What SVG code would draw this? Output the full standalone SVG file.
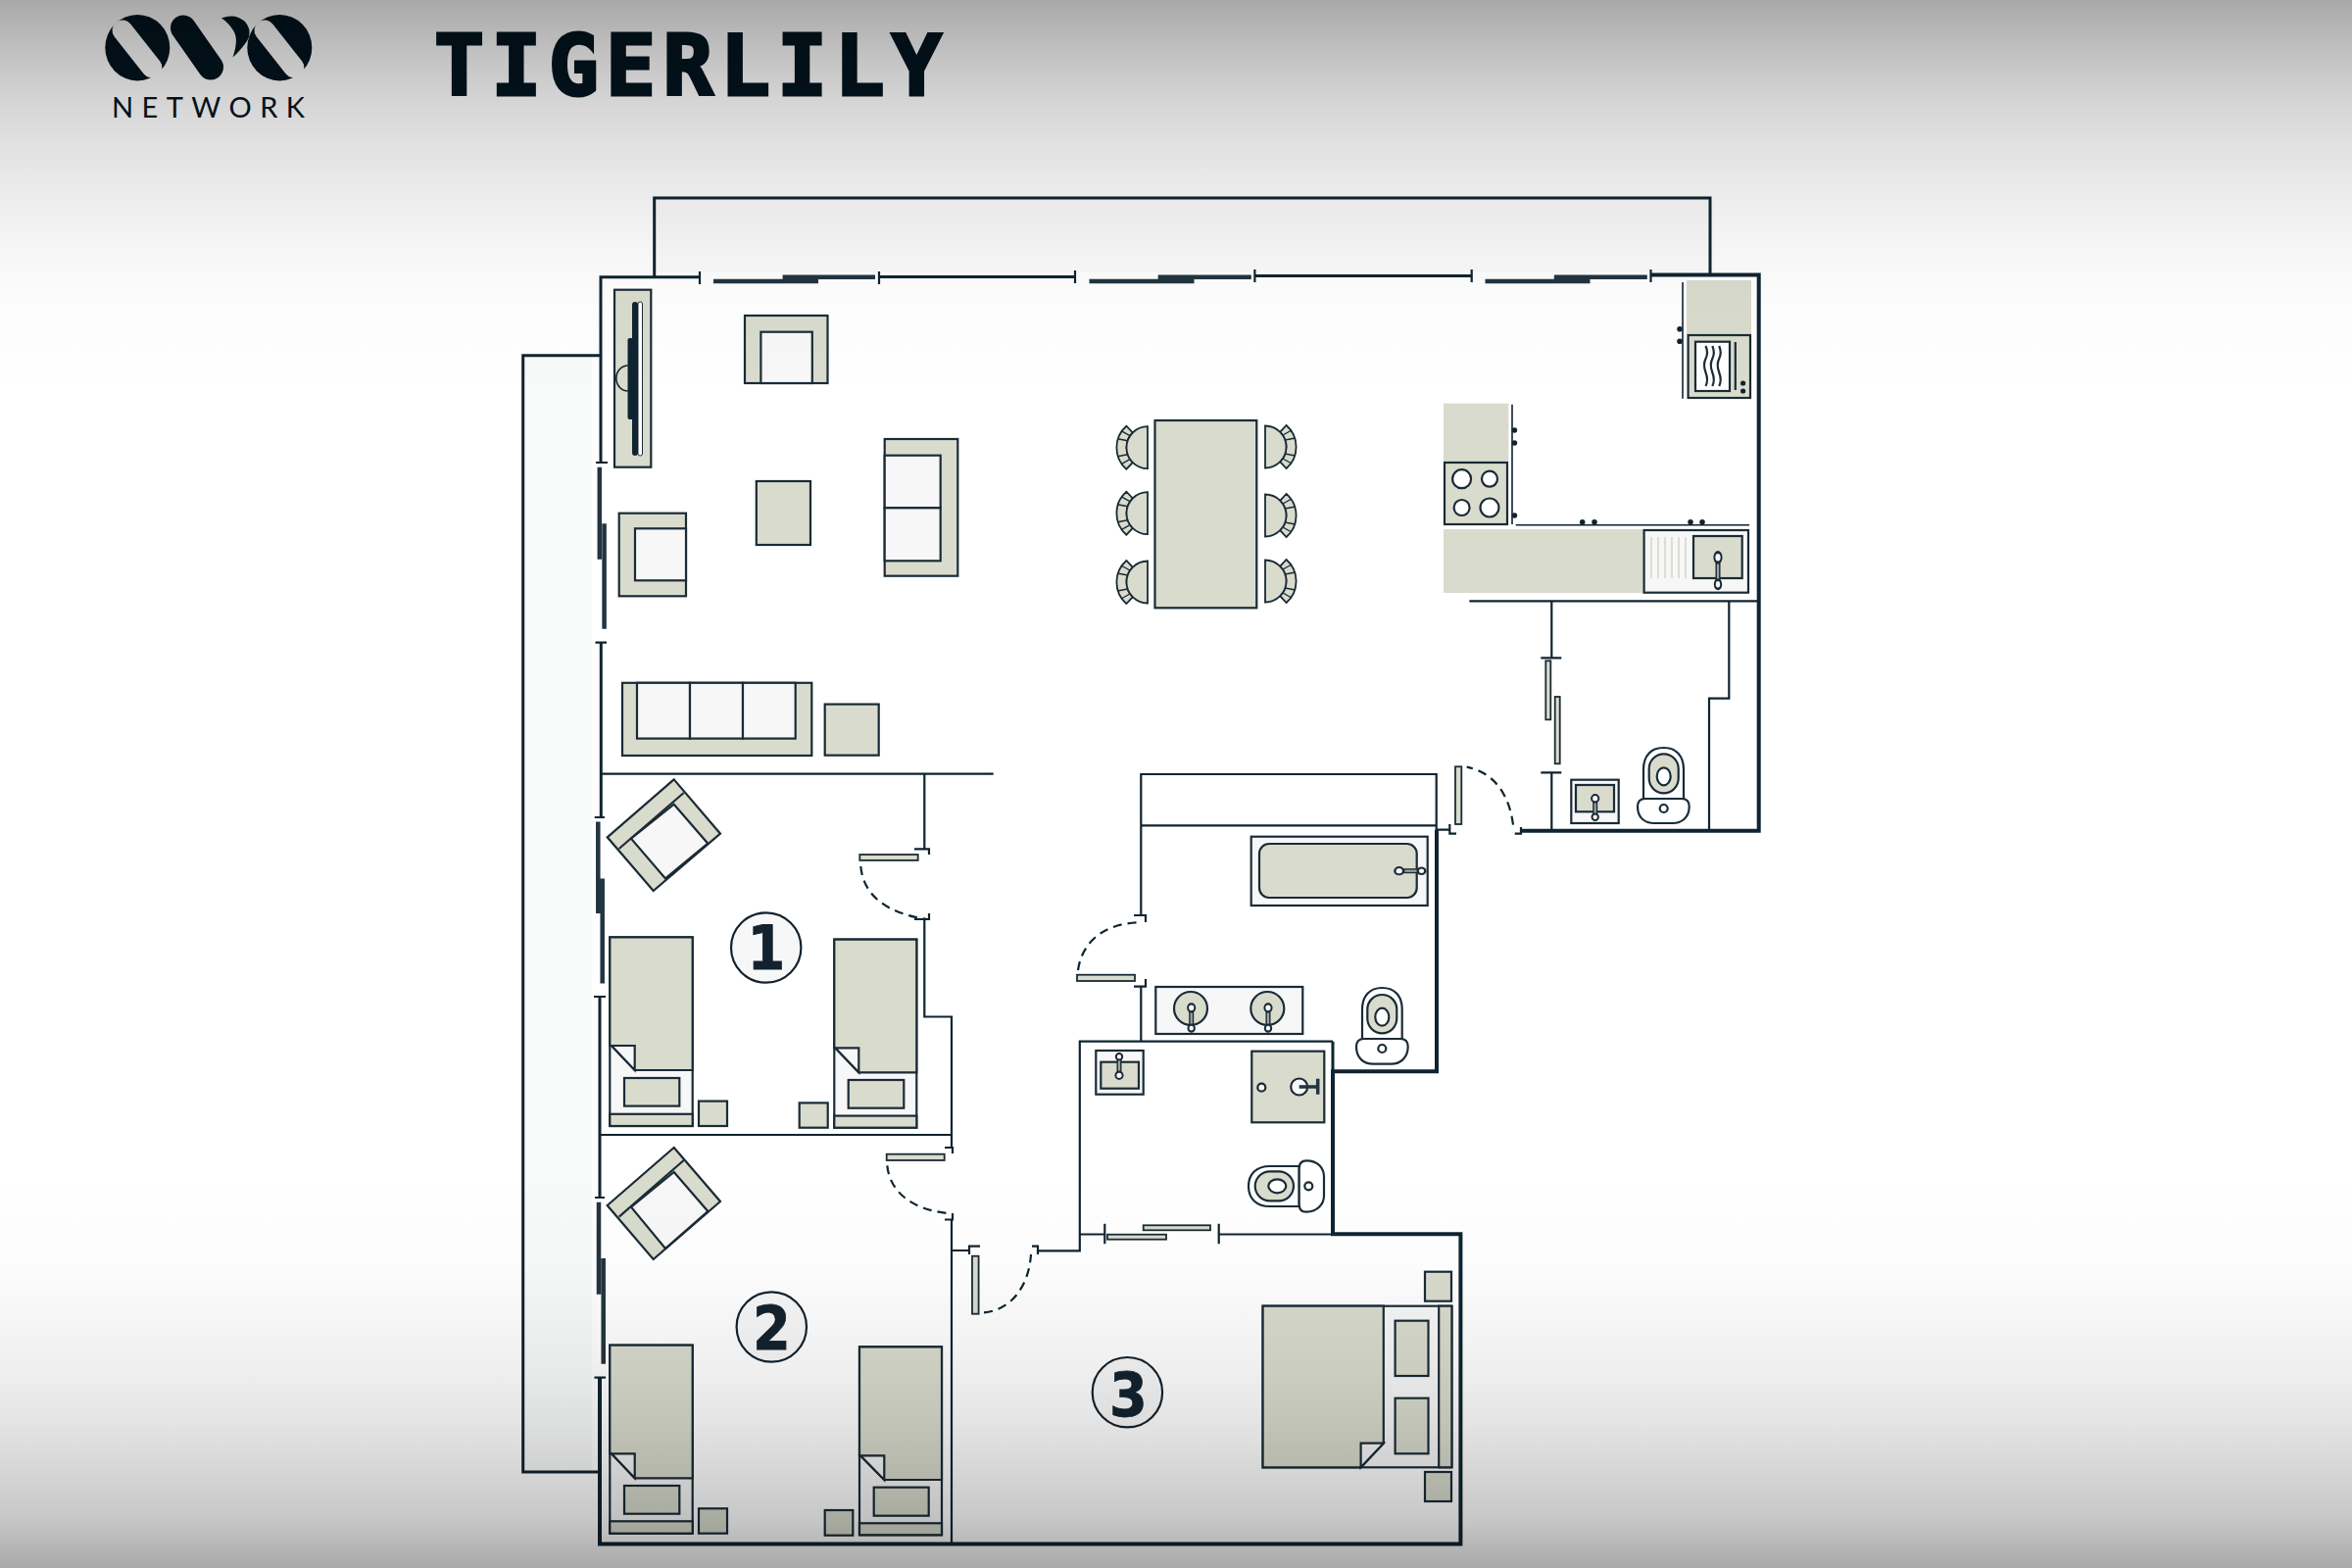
<svg xmlns="http://www.w3.org/2000/svg" xmlns:xlink="http://www.w3.org/1999/xlink" width="2400" height="1600" viewBox="0 0 2400 1600">
<style>
.w{fill:none;stroke:#0f2430;stroke-width:4}
.m{fill:none;stroke:#0f2430;stroke-width:3}
.t{fill:none;stroke:#0f2430;stroke-width:2.2}
.th{fill:none;stroke:#0f2430;stroke-width:1.6}
.d{fill:none;stroke:#0f2430;stroke-width:2.2;stroke-dasharray:9 6}
.g{fill:none;stroke:#22343f;stroke-width:4.5}
.f{fill:#d9dbcd;stroke:#1a2b36;stroke-width:2.2}
.c{fill:#f7f7f7;stroke:#1a2b36;stroke-width:2.2}
.n{fill:#d9dbcd;stroke:none}
.o{fill:#ffffff;stroke:#1a2b36;stroke-width:2.2}
.k{fill:#0f2430;stroke:none}
.s{fill:none;stroke:#1a2b36;stroke-width:2.2}
.l{fill:#d9dbcd;stroke:#1a2b36;stroke-width:1.8}
.cb{fill:#d9dbcd;stroke:#1a2b36;stroke-width:1.8}
.cr{fill:none;stroke:#1a2b36;stroke-width:1.4}
.num{font-family:"DejaVu Sans",sans-serif;font-weight:700;font-size:62px;fill:#13222e;stroke:#13222e;stroke-width:.8;text-anchor:middle}
.circ{fill:#f7f7f7;stroke:#13222e;stroke-width:2.2}
.logo{fill:#03141f}
</style>
<defs>
<linearGradient id="shade" x1="0" y1="0" x2="0" y2="1">
<stop offset="0" stop-color="#000" stop-opacity=".34"/>
<stop offset=".03125" stop-color="#000" stop-opacity=".25"/>
<stop offset=".0625" stop-color="#000" stop-opacity=".17"/>
<stop offset=".09375" stop-color="#000" stop-opacity=".115"/>
<stop offset=".125" stop-color="#000" stop-opacity=".075"/>
<stop offset=".156" stop-color="#000" stop-opacity=".04"/>
<stop offset=".1875" stop-color="#000" stop-opacity=".015"/>
<stop offset=".25" stop-color="#000" stop-opacity="0"/>
<stop offset=".75" stop-color="#000" stop-opacity="0"/>
<stop offset=".8125" stop-color="#000" stop-opacity=".015"/>
<stop offset=".844" stop-color="#000" stop-opacity=".04"/>
<stop offset=".875" stop-color="#000" stop-opacity=".065"/>
<stop offset=".906" stop-color="#000" stop-opacity=".105"/>
<stop offset=".9375" stop-color="#000" stop-opacity=".16"/>
<stop offset=".969" stop-color="#000" stop-opacity=".22"/>
<stop offset="1" stop-color="#000" stop-opacity=".34"/>
</linearGradient>
<g id="chair">
<path class="cb" d="M-21.6,-22 A29.2,29.2 0 0 0 -21.6,22 L-15.2,15.2 A21.5,21.5 0 0 1 -15.2,-15.2 Z"/>
<path class="cr" d="M-20.3,-7 L-30.7,-9 M-20.3,7 L-30.7,9 M-18,-12 L-27,-17 M-18,12 L-27,17"/>
<path class="cb" d="M0,-21.5 A21.5,21.5 0 0 0 0,21.5 Z"/>
</g>
<g id="tap">
<rect x="-1.8" y="4" width="3.6" height="12" fill="#9ea3a0" stroke="#1a2b36" stroke-width="1.4"/>
<circle cx="0" cy="0" r="3.6" fill="#f7f7f7" stroke="#1a2b36" stroke-width="2"/>
<circle cx="0" cy="19" r="3.2" fill="#f7f7f7" stroke="#1a2b36" stroke-width="2"/>
</g>
</defs>
<rect width="2400" height="1600" fill="#ffffff"/>
<rect x="534" y="363" width="70" height="1139" fill="#f8f9f9"/>
<rect x="668" y="202" width="1077" height="76" fill="#fbfbfb"/>
<g id="header">
<g id="logo">
<ellipse class="logo" cx="140.3" cy="48.7" rx="33" ry="33.7"/>
<line x1="125" y1="31" x2="155" y2="69" stroke="#fff" stroke-width="21" stroke-linecap="round"/>
<line x1="187" y1="28.5" x2="215" y2="68.5" stroke="#03141f" stroke-width="26" stroke-linecap="round"/>
<path class="logo" d="M226,18.5 Q240,13 250,22 Q258,32 252,42 Q245,52 237.5,58.5 Q244,40 238,31 Q233,23 226,18.5 Z"/>
<ellipse class="logo" cx="285.3" cy="48.7" rx="33" ry="33.7"/>
<line x1="270" y1="31" x2="300" y2="69" stroke="#fff" stroke-width="21" stroke-linecap="round"/>
</g>
<text x="114" y="120" font-family="Lato,'Noto Sans',sans-serif" font-size="29" fill="#03141f" textLength="197" lengthAdjust="spacing">NETWORK</text>
<text x="443" y="96.5" font-family="'DejaVu Sans Mono',monospace" font-weight="700" font-size="85" fill="#03141f" stroke="#03141f" stroke-width="3.2" textLength="518" lengthAdjust="spacing">TIGERLILY</text>
</g>
<g id="walls">
<path class="m" d="M613 472V282.7H714M667.7 282V202H1745V280M613 362.7H533.7V1502H612"/>
<path class="w" d="M1684.5 280.5H1794.7V847.7H1552M612 1405.7V1575.5H1490.4V1259.3H1360V1093.3H1466V846.7"/>
<path class="m" d="M613.3 655.7V834M612 1017V1222M897 282.5H1097M1280.4 281.5H1501.7M1360 1062.7V1094"/>
<path class="t" d="M714 277V290M897 277V290M1097 276V289M1280.4 275V288M1501.7 275V288M1684.5 275V288M608 472H620M607.5 655.7H619M606.7 834H617M606 1017H618M607 1222H617M606.5 1405.7H618"/>
<path class="t" d="M613 789.6H1013.7M943.3 789.6V866M943.3 938.6V1037.5H971V1171.7M613 1158H971M971 1245V1575"/>
<path class="t" d="M971 1276H988M1059.3 1276.3H1101.8V1062.7H1360M1101.8 1259.5H1127.3M1243.7 1259.5H1360M1164.3 1006.7V1062.7M1164.3 934V790H1465.7V846.7H1479.3M1164.3 842.3H1465.7"/>
<path class="t" d="M1499.4 613.3H1794.7M1583.3 613.3V671.3M1583.3 788.3V847M1764.3 613.3V712.7H1744V847"/>
<path class="t" d="M1572.3 671.3H1593.3M1572.3 788.3H1593.3M1127.3 1248.7V1269.3M1243.7 1248.7V1269.3"/>
</g>
<g id="windows">
<path class="g" d="M728 287H835M798.6 282.7H893M1111.5 287H1218.5M1181.7 282.7H1276.8M1515.5 287H1622.5M1585.8 282.7H1680.8M611.8 476.7V570.7M616.6 534.3V641.8M610.3 838.6V932M614.7 896.4V1003.6M611 1226.7V1320.7M615.7 1284V1391.7"/>
</g>
<g id="doors">
<path class="t" d="M933 866.4H948V872M933 938H948V932M964 1171H972V1177M964 1244.5H972V1238M1000 1271.7H989V1280M1053 1271.7H1059V1280M1157 934H1169V941M1157 1006.7H1169V999M1479.3 841V850.7H1486M1545.7 850.7H1552V844"/>
<g class="l">
<rect x="877.3" y="872" width="59.4" height="5.9"/>
<rect x="904.7" y="1177.7" width="59" height="6.3"/>
<rect x="992" y="1281.7" width="6.6" height="59"/>
<rect x="1099" y="994.7" width="59" height="6.3"/>
<rect x="1485" y="782.3" width="6.3" height="58.7"/>
<rect x="1577.3" y="674.3" width="5" height="60"/>
<rect x="1586.7" y="711" width="5" height="68.3"/>
<rect x="1130" y="1259.7" width="60" height="5"/>
<rect x="1166.7" y="1250.3" width="68.3" height="5"/>
</g>
<path class="d" d="M878.3 884C881 914 905 932 946 938M905.3 1189.3C908 1216 930 1234 966.7 1238M1004 1339.3C1032 1337 1050 1312 1052 1280M1100 990C1104 962 1125 943 1160.7 941.3M1544 841.7C1540 810 1524 788 1496.7 782.7"/>
</g>
<g id="tv-unit">
<rect class="f" x="627" y="295.7" width="37.3" height="181"/>
<path class="th" d="M640.8 373A12 13 0 0 0 640.8 399" />
<rect x="651" y="308" width="4.5" height="157" rx="2" fill="#fff" stroke="#1a2b36" stroke-width="1"/>
<rect class="k" x="645" y="308" width="6" height="157" rx="3"/>
<rect class="k" x="640.5" y="345" width="6" height="83" rx="2"/>
</g>
<g id="armchair-top">
<rect class="f" x="760" y="322" width="84.5" height="69"/>
<rect class="c" x="776.4" y="338.7" width="52.4" height="52.3"/>
</g>
<rect id="coffee-table" class="f" x="771.8" y="491" width="55.2" height="65"/>
<g id="sofa-2">
<rect class="f" x="902.7" y="448" width="74.6" height="139.7"/>
<rect class="c" x="902.7" y="464.7" width="57" height="53.6"/>
<rect class="c" x="902.7" y="518.3" width="57" height="54"/>
</g>
<g id="armchair-left">
<rect class="f" x="631.7" y="523.7" width="68.3" height="84.6"/>
<rect class="c" x="648" y="539.3" width="52" height="53"/>
</g>
<g id="sofa-3">
<rect class="f" x="635" y="696.8" width="193.3" height="74.2"/>
<rect class="c" x="650" y="696.8" width="54" height="56.8"/>
<rect class="c" x="704" y="696.8" width="54" height="56.8"/>
<rect class="c" x="758" y="696.8" width="53.7" height="56.8"/>
</g>
<rect id="ottoman" class="f" x="841.7" y="718.6" width="55" height="52.1"/>
<g id="dining">
<rect class="f" x="1178.5" y="429" width="103.8" height="191.3"/>
<use xlink:href="#chair" href="#chair" transform="translate(1171,456.7)"/>
<use xlink:href="#chair" href="#chair" transform="translate(1171,523.7)"/>
<use xlink:href="#chair" href="#chair" transform="translate(1171,594)"/>
<use xlink:href="#chair" href="#chair" transform="translate(1291,456) scale(-1,1)"/>
<use xlink:href="#chair" href="#chair" transform="translate(1291,526) scale(-1,1)"/>
<use xlink:href="#chair" href="#chair" transform="translate(1291,593) scale(-1,1)"/>
</g>
<g id="kitchen">
<rect class="n" x="1721" y="286" width="66" height="56"/>
<rect class="f" x="1722.6" y="342" width="63.4" height="64"/>
<rect class="o" x="1730" y="348.7" width="35" height="50.3"/>
<path class="s" d="M1740.5 353q3 7 0 13t0 14t0 14M1747.3 353q3 7 0 13t0 14t0 14M1754.2 353q3 7 0 13t0 14t0 14M1770.8 349V398"/>
<path class="th" d="M1717 288V406.7M1543 412.7V535M1546.7 535.7H1785"/>
<g class="k">
<circle cx="1778.6" cy="391" r="2.6"/><circle cx="1778.6" cy="399" r="2.6"/>
<circle cx="1714" cy="335.7" r="2.8"/><circle cx="1714" cy="348.3" r="2.8"/>
<circle cx="1545.4" cy="439" r="2.8"/><circle cx="1545.4" cy="452" r="2.8"/><circle cx="1545.4" cy="526" r="2.8"/>
<circle cx="1614.7" cy="532.7" r="2.8"/><circle cx="1627" cy="532.7" r="2.8"/><circle cx="1725" cy="532.7" r="2.8"/><circle cx="1737" cy="532.7" r="2.8"/>
</g>
<rect class="n" x="1473" y="411.7" width="66.4" height="60"/>
<rect class="f" x="1474" y="472" width="64" height="63"/>
<circle class="o" cx="1491.6" cy="488.7" r="9.5"/><circle class="o" cx="1520" cy="488.7" r="8"/><circle class="o" cx="1491.6" cy="518" r="8"/><circle class="o" cx="1520" cy="518" r="9.5"/>
<rect class="n" x="1473" y="540" width="204.6" height="65"/>
<rect class="c" x="1677.6" y="541" width="106.4" height="63.7"/>
<path fill="none" stroke="#d0d2c8" stroke-width="1.4" d="M1685 548V590M1692 548V590M1699 548V590M1706 548V590M1713 548V590M1720 548V590"/>
<rect class="f" x="1728" y="547" width="49.7" height="43"/>
<use xlink:href="#tap" href="#tap" transform="translate(1753,568.7) scale(1,1.45)"/>
</g>
<g id="armchair-bed1">
<path class="f" d="M687.7 795.4L735 850.7L666.7 909L619.7 854.3Z"/>
<path class="s" d="M697.7 809L631.7 866"/>
<path class="c" d="M687.7 820.7L722.3 860.7L679 896.4L644 855.7Z"/>
</g>
<g id="armchair-bed2">
<path class="f" d="M687.7 1171L735 1226L666.7 1285L619.7 1230Z"/>
<path class="s" d="M697.7 1184L631.7 1241.7"/>
<path class="c" d="M687.7 1196L722.3 1236L679 1274L644 1231.7Z"/>
</g>
<g id="bed-a">
<rect class="c" x="622.3" y="956.4" width="84.4" height="192.6"/>
<path class="f" d="M622.3 956.4H706.7V1092H647.7L624 1067H622.3Z" />
<path class="c" d="M624 1067H647.7V1092Z"/>
<rect class="f" x="637" y="1100" width="56.3" height="28.6"/>
<rect class="f" x="622.3" y="1136.8" width="84.4" height="12.2"/>
<rect class="f" x="713" y="1123.6" width="29" height="25.4"/>
</g>
<g id="bed-b">
<rect class="c" x="851.3" y="958.6" width="84" height="192.1"/>
<path class="f" d="M851.3 958.6H935.3V1094.3H876.3L852.3 1069.3H851.3Z"/>
<path class="c" d="M852.3 1069.3H876.3V1094.3Z"/>
<rect class="f" x="865.7" y="1102" width="56.6" height="28.7"/>
<rect class="f" x="851.3" y="1138.6" width="84" height="12.1"/>
<rect class="f" x="815.7" y="1125.4" width="29" height="25.3"/>
</g>
<g id="bed-c">
<rect class="c" x="622.3" y="1372.7" width="84.4" height="192"/>
<path class="f" d="M622.3 1372.7H706.7V1508.3H647.7L624 1483.3H622.3Z"/>
<path class="c" d="M624 1483.3H647.7V1508.3Z"/>
<rect class="f" x="637" y="1516" width="56.3" height="28.7"/>
<rect class="f" x="622.3" y="1552.3" width="84.4" height="12.4"/>
<rect class="f" x="713" y="1539.3" width="29" height="25.4"/>
</g>
<g id="bed-d">
<rect class="c" x="877" y="1374.3" width="84" height="192"/>
<path class="f" d="M877 1374.3H961V1510H902.3L878 1485.3H877Z"/>
<path class="c" d="M878 1485.3H902.3V1510Z"/>
<rect class="f" x="891.7" y="1517.7" width="56" height="29"/>
<rect class="f" x="877" y="1554.3" width="84" height="12"/>
<rect class="f" x="841.7" y="1541" width="28.6" height="25.7"/>
</g>
<g id="bed-master">
<rect class="c" x="1288.6" y="1332.7" width="192.8" height="164.6"/>
<path class="f" d="M1288.6 1332.7H1411.8V1472.7L1388.6 1497.3H1288.6Z"/>
<path class="c" d="M1388.6 1472.7H1411.8L1388.6 1497.3Z"/>
<rect class="f" x="1468.2" y="1332.7" width="13.2" height="164.6"/>
<rect class="f" x="1423.6" y="1347.7" width="33.9" height="56.3"/>
<rect class="f" x="1423.6" y="1426.7" width="33.9" height="56.6"/>
<rect class="f" x="1454" y="1297.7" width="27" height="30"/>
<rect class="f" x="1454" y="1502" width="27" height="30"/>
</g>
<g id="bathtub">
<rect class="c" x="1276.7" y="853.7" width="180" height="70.3"/>
<rect class="f" x="1285" y="861" width="160.7" height="55" rx="10"/>
<use xlink:href="#tap" href="#tap" transform="translate(1427.7,888.7) rotate(-90) scale(1,1.2)"/>
</g>
<g id="vanity">
<rect class="c" x="1179.3" y="1007" width="150" height="48"/>
<circle class="f" cx="1215" cy="1029" r="17"/><circle class="f" cx="1293.3" cy="1029" r="17"/>
<use xlink:href="#tap" href="#tap" transform="translate(1215.7,1028.3) scale(1,1.1)"/>
<use xlink:href="#tap" href="#tap" transform="translate(1294,1028.3) scale(1,1.1)"/>
</g>
<g id="toilet-bath">
<path class="o" d="M1390 1060V1030C1390 1016 1398 1008 1410.3 1008C1423 1008 1430.7 1016 1430.7 1030V1060"/>
<path class="o" d="M1384 1068C1384 1062 1388 1060 1392 1060H1429C1433 1060 1436.7 1062 1436.7 1068C1436.7 1080 1428 1085.7 1420 1085.7H1401C1392 1085.7 1384 1080 1384 1068Z"/>
<rect class="f" x="1395.3" y="1015" width="30" height="39.3" rx="15"/>
<ellipse class="o" cx="1410.3" cy="1037.7" rx="7" ry="9"/>
<circle class="o" cx="1410.3" cy="1070" r="4"/>
</g>
<g id="sink-ensuite">
<rect class="c" x="1118.3" y="1072" width="48.4" height="44.7"/>
<rect class="f" x="1123.3" y="1083.7" width="38.7" height="27"/>
<use xlink:href="#tap" href="#tap" transform="translate(1142,1097.3) scale(1,-1)"/>
</g>
<g id="shower">
<rect class="f" x="1277.3" y="1072.7" width="74" height="72.6"/>
<circle class="s" cx="1287.3" cy="1109.7" r="4" style="fill:#f7f7f7"/>
<circle class="s" cx="1325.7" cy="1109" r="8.5" style="fill:#f7f7f7"/>
<path fill="none" stroke="#22343f" stroke-width="3.5" d="M1325.7 1109H1344.7M1344.7 1100.7V1116.7"/>
</g>
<g id="toilet-ensuite">
<path class="o" d="M1325.7 1190H1296C1282 1190 1274 1198 1274 1210.5C1274 1223 1282 1231 1296 1231H1325.7Z"/>
<path class="o" d="M1333 1184.3C1327 1184.3 1325.7 1188 1325.7 1192V1229C1325.7 1233 1327 1236.7 1333 1236.7C1345 1236.7 1351 1228 1351 1220V1201C1351 1192 1345 1184.3 1333 1184.3Z"/>
<rect class="f" x="1280.7" y="1195.3" width="39.3" height="30" rx="15"/>
<ellipse class="o" cx="1303.3" cy="1210.3" rx="9" ry="7"/>
<circle class="o" cx="1335.3" cy="1210.3" r="4"/>
</g>
<g id="sink-wc">
<rect class="c" x="1603.3" y="795.7" width="48.4" height="44.3"/>
<rect class="f" x="1608" y="801" width="39" height="27.3"/>
<use xlink:href="#tap" href="#tap" transform="translate(1627.7,814.7)"/>
</g>
<g id="toilet-wc">
<path class="o" d="M1677 815V785C1677 771 1685 763 1697.7 763C1710 763 1718 771 1718 785V815"/>
<path class="o" d="M1671 823C1671 817 1675 815 1679 815H1716C1720 815 1723.7 817 1723.7 823C1723.7 835 1715 840 1707 840H1688C1679 840 1671 835 1671 823Z"/>
<rect class="f" x="1682.7" y="769.3" width="30" height="40" rx="15"/>
<ellipse class="o" cx="1697.7" cy="792.3" rx="7" ry="9"/>
<circle class="o" cx="1697.7" cy="825" r="4"/>
</g>
<g id="room-1"><circle class="circ" cx="781.7" cy="967" r="35.7"/><text class="num" transform="translate(782,989) scale(.9,1)">1</text></g>
<g id="room-2"><circle class="circ" cx="787.3" cy="1354" r="35.7"/><text class="num" transform="translate(787.5,1376.5) scale(.9,1)">2</text></g>
<g id="room-3"><circle class="circ" cx="1150.4" cy="1420.7" r="35.7"/><text class="num" transform="translate(1151.5,1445) scale(.9,1)">3</text></g>
<rect id="shade-overlay" width="2400" height="1600" fill="url(#shade)"/>
</svg>
